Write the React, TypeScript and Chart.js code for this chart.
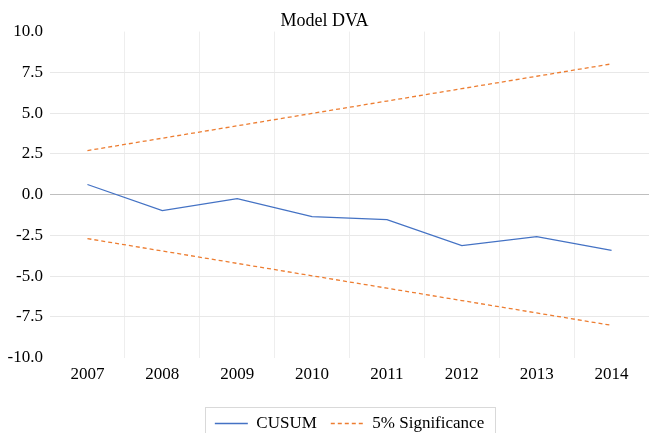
import React, { useEffect, useRef } from "react";
import { Chart, registerables } from "chart.js";

Chart.register(...registerables);

const years = ["2007", "2008", "2009", "2010", "2011", "2012", "2013", "2014"];
const cusum = [0.62, -0.98, -0.25, -1.35, -1.53, -3.13, -2.58, -3.42];
const upper = [2.7, 3.46, 4.22, 4.98, 5.74, 6.5, 7.26, 8.02];
const lower = [-2.7, -3.46, -4.22, -4.98, -5.74, -6.5, -7.26, -8.02];
const yTicks = [-10, -7.5, -5, -2.5, 0, 2.5, 5, 7.5, 10];

const FONT = "'Liberation Serif', 'Times New Roman', serif";
const LEGEND_SHIFT = 9;

const legendBorder = {
  id: "legendBorder",
  afterDraw(chart: any) {
    const lg = chart.legend;
    if (!lg || !lg.legendHitBoxes || !lg.legendHitBoxes.length) return;
    const boxes = lg.legendHitBoxes;
    let l = Infinity, t = Infinity, r = -Infinity, b = -Infinity;
    for (const h of boxes) {
      l = Math.min(l, h.left);
      t = Math.min(t, h.top);
      r = Math.max(r, h.left + h.width);
      b = Math.max(b, h.top + h.height);
    }
    const ctx = chart.ctx;
    ctx.save();
    ctx.strokeStyle = "#d9d9d9";
    ctx.lineWidth = 1;
    ctx.strokeRect(Math.round(l - 10) + 0.5, Math.round(t - 8) + 0.5, Math.round(r - l + 21), Math.round(b - t + 24));
    ctx.restore();
  },
};

export default function App() {
  const ref = useRef<HTMLCanvasElement>(null);
  useEffect(() => {
    document.body.style.margin = "0";
    const chart = new Chart(ref.current!, {
      type: "line",
      data: {
        labels: years,
        datasets: [
          {
            label: "CUSUM",
            data: cusum,
            borderColor: "#4472C4",
            backgroundColor: "#4472C4",
            borderWidth: 1.3,
            pointRadius: 0,
            tension: 0,
          },
          {
            label: "5% Significance",
            data: upper,
            borderColor: "#ED7D31",
            backgroundColor: "#ED7D31",
            borderWidth: 1.3,
            borderDash: [4, 3],
            pointRadius: 0,
            tension: 0,
          },
          {
            label: "5% Significance lower",
            data: lower,
            borderColor: "#ED7D31",
            backgroundColor: "#ED7D31",
            borderWidth: 1.3,
            borderDash: [4, 3],
            pointRadius: 0,
            tension: 0,
          },
        ],
      },
      options: {
        animation: false,
        responsive: false,
        maintainAspectRatio: false,
        layout: { padding: { left: 0, right: 0, top: 0, bottom: -LEGEND_SHIFT } },
        plugins: {
          title: {
            display: true,
            text: "Model DVA",
            color: "#000",
            font: { family: FONT, size: 18, weight: "normal" },
            padding: { top: 10, bottom: 0 },
          },
          legend: {
            position: "bottom",
            fullSize: false,
            labels: {
              generateLabels: (c: any) => {
                const items = Chart.defaults.plugins.legend.labels.generateLabels(c);
                return items
                  .filter((it: any) => it.datasetIndex !== 2)
                  .map((it: any) => {
                    const ds: any = c.data.datasets[it.datasetIndex];
                    return {
                      ...it,
                      lineDash: ds.borderDash || [],
                      strokeStyle: ds.borderColor,
                      lineWidth: 1.3,
                    };
                  });
              },
              usePointStyle: true,
              pointStyle: "line",
              pointStyleWidth: 33,
              boxWidth: 33,
              boxHeight: 17,
              color: "#000",
              padding: 14,
              font: { family: FONT, size: 17 },
            },
          },
          tooltip: { enabled: false },
        },
        scales: {
          x: {
            offset: true,
            afterFit: (axis: any) => {
              axis.height += LEGEND_SHIFT;
            },
            grid: {
              offset: true,
              drawTicks: false,
              color: (ctx: any) =>
                ctx.index === 0 || ctx.index === years.length ? "rgba(0,0,0,0)" : "#eeeeee",
            },
            border: { display: false },
            ticks: {
              color: "#000",
              padding: 7,
              font: { family: FONT, size: 17 },
            },
          },
          y: {
            min: -10,
            max: 10,
            afterBuildTicks: (axis: any) => {
              axis.ticks = yTicks.map((v) => ({ value: v }));
            },
            afterFit: (axis: any) => {
              axis.width = 50;
            },
            grid: {
              drawTicks: false,
              color: (ctx: any) => {
                const v = ctx.tick && ctx.tick.value;
                if (v === 10 || v === -10) return "rgba(0,0,0,0)";
                if (v === 0) return "#bfbfbf";
                return "#e8e8e8";
              },
            },
            border: { display: false },
            ticks: {
              color: "#000",
              padding: 7,
              font: { family: FONT, size: 17 },
              callback: (v: any) => Number(v).toFixed(1),
            },
          },
        },
      },
      plugins: [legendBorder],
    });
    return () => chart.destroy();
  }, []);
  return (
    <div style={{ width: 649, height: 433 }}>
      <canvas ref={ref} width={649} height={433} style={{ display: "block" }} />
    </div>
  );
}
